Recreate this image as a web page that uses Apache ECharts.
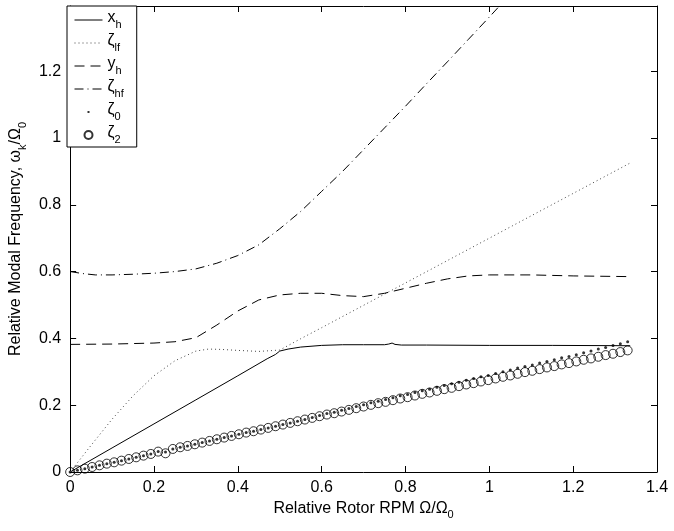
<!DOCTYPE html>
<html>
<head>
<meta charset="utf-8">
<script src="https://cdn.jsdelivr.net/npm/echarts@6/dist/echarts.min.js"></script>
<style>
html,body{margin:0;padding:0;background:#fff;}
#chart{width:674px;height:531px;}
</style>
</head>
<body>
<div id="chart"></div>
<script>
// ---- data ----
const xTicks = [0, 0.2, 0.4, 0.6, 0.8, 1, 1.2, 1.4];
const yTicks = [0, 0.2, 0.4, 0.6, 0.8, 1, 1.2];

const xhX = [0, 0.1, 0.2, 0.3, 0.4, 0.47, 0.49, 0.5, 0.52, 0.55, 0.6, 0.65, 0.7, 0.75, 0.76, 0.768, 0.775, 0.79, 0.85, 1.0, 1.15, 1.336];
const xhY = [0, 0.072, 0.144, 0.216, 0.288, 0.339, 0.352, 0.362, 0.368, 0.374, 0.379, 0.381, 0.381, 0.381, 0.383, 0.386, 0.382, 0.380, 0.380, 0.379, 0.379, 0.378];

const zlfX = [0, 0.05, 0.1, 0.15, 0.2, 0.25, 0.3, 0.33, 0.36, 0.4, 0.45, 0.5, 0.55, 0.6, 0.7, 0.8, 0.9, 1.0, 1.1, 1.2, 1.336];
const zlfY = [0, 0.08, 0.158, 0.228, 0.288, 0.333, 0.362, 0.368, 0.367, 0.364, 0.361, 0.365, 0.399, 0.432, 0.499, 0.566, 0.633, 0.700, 0.767, 0.834, 0.925];

const yhX = [0, 0.1, 0.2, 0.25, 0.3, 0.35, 0.4, 0.45, 0.5, 0.55, 0.6, 0.65, 0.7, 0.75, 0.8, 0.85, 0.9, 0.95, 1.0, 1.1, 1.2, 1.33];
const yhY = [0.382, 0.383, 0.386, 0.390, 0.402, 0.440, 0.482, 0.515, 0.530, 0.535, 0.535, 0.528, 0.525, 0.535, 0.550, 0.565, 0.578, 0.587, 0.590, 0.590, 0.587, 0.585];

const zhfX = [0, 0.03, 0.06, 0.1, 0.15, 0.2, 0.25, 0.3, 0.35, 0.4, 0.45, 0.5, 0.55, 0.6, 0.65, 0.7, 0.75, 0.8, 0.85, 0.9, 0.95, 1.0, 1.05];
const zhfY = [0.600, 0.594, 0.590, 0.590, 0.592, 0.595, 0.600, 0.608, 0.625, 0.648, 0.680, 0.728, 0.780, 0.840, 0.900, 0.965, 1.030, 1.095, 1.162, 1.228, 1.295, 1.362, 1.430];

const rpm = [0, 0.0175, 0.035, 0.0525, 0.07, 0.0875, 0.105, 0.1225, 0.14, 0.1575,
  0.175, 0.1925, 0.21, 0.2275, 0.245, 0.2625, 0.28, 0.2975, 0.315, 0.3325,
  0.35, 0.3675, 0.385, 0.4025, 0.42, 0.4375, 0.455, 0.4725, 0.49, 0.5075,
  0.525, 0.5425, 0.56, 0.5775, 0.595, 0.6125, 0.63, 0.6475, 0.665, 0.6825,
  0.70, 0.7175, 0.735, 0.7525, 0.77, 0.7875, 0.805, 0.8225, 0.84, 0.8575,
  0.875, 0.8925, 0.91, 0.9275, 0.945, 0.9625, 0.98, 0.9975, 1.015, 1.0325,
  1.05, 1.0675, 1.085, 1.1025, 1.12, 1.1375, 1.155, 1.1725, 1.19, 1.2075,
  1.225, 1.2425, 1.26, 1.2775, 1.295, 1.3125, 1.33];

const zeta2 = [0.000, 0.005, 0.010, 0.015, 0.020, 0.025, 0.029, 0.034, 0.039, 0.044,
  0.049, 0.054, 0.061, 0.056, 0.069, 0.074, 0.078, 0.083, 0.088, 0.093,
  0.098, 0.103, 0.108, 0.113, 0.118, 0.122, 0.127, 0.132, 0.137, 0.142,
  0.147, 0.152, 0.157, 0.162, 0.167, 0.172, 0.176, 0.181, 0.186, 0.191,
  0.196, 0.201, 0.206, 0.210, 0.215, 0.220, 0.224, 0.229, 0.234, 0.238,
  0.243, 0.248, 0.252, 0.257, 0.262, 0.266, 0.271, 0.275, 0.280, 0.285,
  0.289, 0.294, 0.299, 0.303, 0.308, 0.313, 0.317, 0.322, 0.326, 0.331,
  0.336, 0.340, 0.345, 0.350, 0.354, 0.359, 0.364];

const zeta0 = [0.000, 0.005, 0.010, 0.015, 0.020, 0.025, 0.029, 0.034, 0.039, 0.044,
  0.049, 0.054, 0.061, 0.060, 0.069, 0.074, 0.078, 0.083, 0.088, 0.093,
  0.098, 0.103, 0.108, 0.113, 0.118, 0.122, 0.127, 0.132, 0.137, 0.142,
  0.147, 0.152, 0.157, 0.163, 0.169, 0.175, 0.179, 0.185, 0.190, 0.196,
  0.201, 0.207, 0.212, 0.217, 0.222, 0.228, 0.232, 0.238, 0.243, 0.248,
  0.254, 0.259, 0.264, 0.269, 0.275, 0.280, 0.285, 0.289, 0.295, 0.300,
  0.305, 0.311, 0.316, 0.320, 0.326, 0.331, 0.336, 0.342, 0.346, 0.351,
  0.357, 0.362, 0.368, 0.373, 0.379, 0.384, 0.390];

const legendNames = ['xh', 'zlf', 'yh', 'zhf', 'z0', 'z2'];
const legendLabels = {
  xh: '{m|x}{s|h}', zlf: '{m|ζ}{s|lf}', yh: '{m|y}{s|h}',
  zhf: '{m|ζ}{s|hf}', z0: '{m|ζ}{s|0}', z2: '{m|ζ}{s|2}'
};

// ---- chart ----
const FONT = '"Liberation Sans", Arial, Helvetica, sans-serif';
function pairs(xs, ys) { return xs.map((x, i) => [x, ys[i]]); }

const lineStyles = {
  xh: {color: '#000', width: 1, type: 'solid'},
  zlf: {color: '#444', width: 1, type: [1, 3]},
  yh: {color: '#000', width: 1, type: [10, 6]},
  zhf: {color: '#000', width: 1, type: [9, 4, 1, 4]}
};

const chart = echarts.init(document.getElementById('chart'), null, {renderer: 'canvas'});

const axisCommon = {
  axisLine: {show: true, onZero: false, lineStyle: {color: '#000', width: 1}},
  axisTick: {show: true, inside: true, length: 6, lineStyle: {color: '#000', width: 1}},
  splitLine: {show: false}
};
const sub = {
  a: {fontSize: 16, fontFamily: FONT, color: '#000', verticalAlign: 'bottom', padding: [0, 0, 4, 0]},
  b: {fontSize: 11, fontFamily: FONT, color: '#000', verticalAlign: 'bottom'}
};

const option = {
  animation: false,
  backgroundColor: '#fff',
  grid: {left: 67, right: 17, top: 6, bottom: 59, containLabel: false},
  legend: {
    left: 67, top: 6, orient: 'vertical',
    data: legendNames.map(n => {
      if (n === 'z0') return {name: n, icon: 'path://M0,0M8,8M3,3L5,3L5,5L3,5Z'};
      if (n === 'z2') return {name: n, icon: 'circle'};
      return {name: n, lineStyle: lineStyles[n],
              itemStyle: {color: 'rgba(0,0,0,0)', borderWidth: 0, opacity: 0}};
    }),
    backgroundColor: '#fff', borderColor: '#000', borderWidth: 1, borderRadius: 0,
    padding: [4, 13, 2, 7], itemGap: 3, itemWidth: 28, itemHeight: 8,
    formatter: n => legendLabels[n],
    textStyle: {
      fontFamily: FONT, color: '#000',
      rich: {
        m: {fontSize: 16, fontFamily: FONT, color: '#000', verticalAlign: 'bottom', padding: [0, 0, 4, 0]},
        s: {fontSize: 11, fontFamily: FONT, color: '#000', verticalAlign: 'bottom'}
      }
    }
  },
  xAxis: [
    Object.assign({
      type: 'value', position: 'bottom', min: 0, max: 1.4, interval: 0.2,
      axisLabel: {color: '#000', fontSize: 16, fontFamily: FONT, margin: 8},
      name: '{a|Relative Rotor RPM Ω/Ω}{b|0}', nameLocation: 'middle', nameGap: 24,
      nameTextStyle: {rich: sub}
    }, axisCommon),
    Object.assign({
      type: 'value', position: 'top', min: 0, max: 1.4, interval: 0.2,
      axisLabel: {show: false}
    }, axisCommon)
  ],
  yAxis: [
    Object.assign({
      type: 'value', position: 'left', min: 0, max: 1.395, interval: 0.2,
      axisLabel: {color: '#000', fontSize: 16, fontFamily: FONT, margin: 9, showMaxLabel: false},
      name: '{a|Relative Modal Frequency, ω}{b|k}{a|/Ω}{b|0}', nameLocation: 'middle', nameGap: 29,
      nameTextStyle: {rich: sub}
    }, axisCommon),
    Object.assign({
      type: 'value', position: 'right', min: 0, max: 1.395, interval: 0.2,
      axisLabel: {show: false}
    }, axisCommon)
  ],
  series: [
    {name: 'xh', type: 'line', data: pairs(xhX, xhY), symbol: 'none', clip: true,
     lineStyle: lineStyles.xh, itemStyle: {color: '#000'}},
    {name: 'zlf', type: 'line', data: pairs(zlfX, zlfY), symbol: 'none', clip: true,
     lineStyle: lineStyles.zlf, itemStyle: {color: '#444'}},
    {name: 'yh', type: 'line', data: pairs(yhX, yhY), symbol: 'none', clip: true,
     lineStyle: lineStyles.yh, itemStyle: {color: '#000'}},
    {name: 'zhf', type: 'line', data: pairs(zhfX, zhfY), symbol: 'none', clip: true,
     lineStyle: lineStyles.zhf, itemStyle: {color: '#000'}},
    {name: 'z2', type: 'scatter', data: pairs(rpm, zeta2), symbol: 'circle', symbolSize: 9,
     itemStyle: {color: 'rgba(0,0,0,0)', borderColor: '#000', borderWidth: 1}},
    {name: 'z0', type: 'scatter', data: pairs(rpm, zeta0), symbol: 'circle', symbolSize: 3,
     itemStyle: {color: '#000'}}
  ]
};
chart.setOption(option);
</script>
</body>
</html>
